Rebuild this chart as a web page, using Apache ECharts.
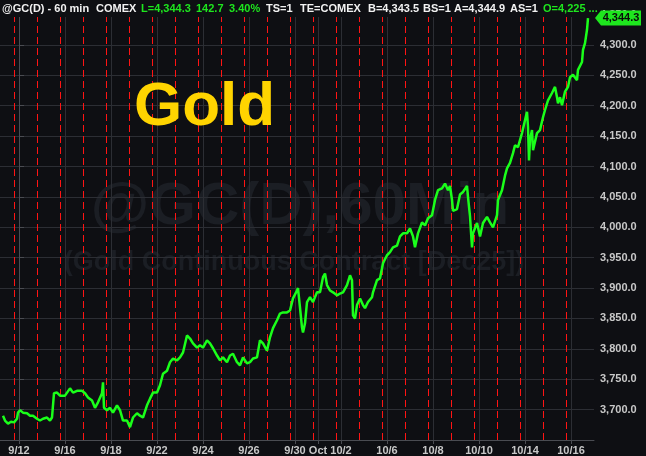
<!DOCTYPE html>
<html>
<head>
<meta charset="utf-8">
<title>Gold 60 min</title>
<script src="https://cdn.jsdelivr.net/npm/echarts@6/dist/echarts.min.js"></script>
<style>
  html, body { margin: 0; padding: 0; background: #0e0f13; }
  #chart { width: 646px; height: 456px; }
</style>
</head>
<body>
<div id="chart"></div>
<script>
// x = hours counted from the 9/12 label
var hours = [
  -16, -14, -11, -8, -5, -2, -1, 1, 4, 8, 11, 14, 18, 21, 24, 28, 31, 33, 35, 38,
  41, 46, 51, 54, 58, 63, 66, 69, 73, 76, 79, 83, 84, 85, 88, 91, 94, 98, 101, 104,
  108, 111, 114, 118, 121, 124, 128, 131, 134, 138, 141, 144, 148, 151, 154, 158, 161, 164, 168, 171,
  174, 178, 181, 184, 188, 191, 194, 198, 201, 204, 208, 211, 214, 218, 221, 224, 228, 231, 234, 238,
  241, 244, 248, 251, 254, 258, 261, 264, 268, 271, 274, 278, 279, 281, 283, 284, 286, 288, 291, 294,
  298, 301, 304, 306, 308, 311, 314, 318, 321, 324, 328, 331, 333, 334, 336, 338, 341, 344, 346, 349,
  353, 354, 358, 361, 364, 368, 371, 374, 378, 381, 384, 388, 391, 394, 396, 399, 403, 406, 409, 413,
  416, 419, 423, 426, 429, 431, 433, 434, 438, 441, 444, 448, 449, 451, 453, 454, 458, 461, 464, 468,
  471, 474, 478, 479, 483, 486, 488, 491, 494, 496, 499, 503, 506, 508, 509, 510, 511, 513, 514, 518,
  521, 524, 526, 529, 533, 536, 538, 539, 541, 543, 546, 549, 551, 554, 558, 559, 561, 563, 564, 566,
  568, 569
];
var prices = [
  3690, 3682, 3677, 3680, 3679, 3685, 3695, 3699, 3695, 3694, 3690, 3690, 3685, 3682, 3685, 3687, 3682, 3687, 3727, 3728,
  3723, 3723, 3735, 3728, 3731, 3731, 3727, 3720, 3715, 3703, 3712, 3727, 3745, 3703, 3699, 3703, 3695, 3707, 3699, 3682,
  3682, 3671, 3687, 3694, 3690, 3687, 3707, 3718, 3728, 3728, 3740, 3759, 3764, 3778, 3784, 3781, 3786, 3794, 3822, 3817,
  3809, 3802, 3806, 3802, 3814, 3809, 3801, 3789, 3781, 3786, 3778, 3789, 3792, 3778, 3773, 3786, 3776, 3778, 3784, 3786,
  3814, 3809, 3797, 3819, 3834, 3847, 3858, 3860, 3860, 3863, 3883, 3896, 3900, 3868, 3835, 3827, 3842, 3877, 3885, 3877,
  3893, 3893, 3918, 3924, 3905, 3896, 3893, 3888, 3891, 3893, 3905, 3921, 3913, 3855, 3850, 3872, 3883, 3872, 3867, 3877,
  3885, 3893, 3913, 3916, 3941, 3954, 3959, 3967, 3970, 3985, 3990, 3990, 3998, 3985, 3967, 3990, 4008, 4003, 4015, 4020,
  4045, 4061, 4064, 4072, 4061, 4068, 4045, 4027, 4030, 4054, 4058, 4068, 4050, 4018, 3967, 3990, 4007, 3985, 4007, 4017,
  4008, 4000, 4020, 4045, 4061, 4085, 4097, 4106, 4122, 4135, 4132, 4155, 4176, 4190, 4165, 4110, 4144, 4160, 4127, 4155,
  4160, 4181, 4193, 4209, 4221, 4231, 4214, 4204, 4214, 4201, 4223, 4231, 4247, 4251, 4242, 4259, 4256, 4272, 4292, 4303,
  4325, 4344.3
];
var labelHours = [0, 46, 92, 138, 184, 230, 276, 299, 322, 368, 414, 460, 506, 552];
var labelTexts = ['9/12', '9/16', '9/18', '9/22', '9/24', '9/26', '9/30', 'Oct', '10/2', '10/6', '10/8', '10/10', '10/14', '10/16'];
var sessionBreaks = [-5, 18, 41, 64, 87, 110, 133, 156, 179, 202, 225, 248, 271, 294, 317, 340, 363, 386, 409, 432, 455, 478, 501, 524, 547];

var header = [
  { t: '@GC(D) - 60 min', x: 2, c: '#f2f2f2' },
  { t: 'COMEX', x: 96, c: '#f2f2f2' },
  { t: 'L=4,344.3', x: 141, c: '#1ee61e' },
  { t: '142.7', x: 196, c: '#1ee61e' },
  { t: '3.40%', x: 229, c: '#1ee61e' },
  { t: 'TS=1', x: 266, c: '#f2f2f2' },
  { t: 'TE=COMEX', x: 300, c: '#f2f2f2' },
  { t: 'B=4,343.5', x: 368, c: '#f2f2f2' },
  { t: 'BS=1', x: 423, c: '#f2f2f2' },
  { t: 'A=4,344.9', x: 454, c: '#f2f2f2' },
  { t: 'AS=1', x: 510, c: '#f2f2f2' },
  { t: 'O=4,225 ...', x: 543, c: '#1ee61e' }
];

var FONT = '"Liberation Sans", Arial, sans-serif';
var chart = echarts.init(document.getElementById('chart'));

var points = hours.map(function (h, i) { return [h, prices[i]]; });

var graphics = [
  // watermark
  {
    type: 'text', z: -1, silent: true, x: 300, y: 207,
    style: { text: '@GC(D),60Min', fill: '#1b1e24', font: 'bold 60px ' + FONT, textAlign: 'center', textVerticalAlign: 'middle' }
  },
  {
    type: 'text', z: -1, silent: true, x: 294, y: 263,
    style: { text: '(Gold Continuous Contract [Dec25])', fill: '#1b1e24', font: 'bold 27px ' + FONT, textAlign: 'center', textVerticalAlign: 'middle' }
  },
  {
    type: 'text', z: 10, silent: true, x: 134, y: 108,
    style: { text: 'Gold', fill: '#ffd400', font: 'bold 62px ' + FONT, textAlign: 'left', textVerticalAlign: 'middle' }
  },
  {
    type: 'rect', z: 20, silent: true,
    shape: { x: 0, y: 0, width: 594, height: 17 },
    style: { fill: '#0e0f13' }
  }
];
header.forEach(function (h) {
  graphics.push({
    type: 'text', z: 21, silent: true, x: h.x, y: 9,
    style: { text: h.t, fill: h.c, font: 'bold 11px ' + FONT, textAlign: 'left', textVerticalAlign: 'middle' }
  });
});

var option = {
  backgroundColor: '#0e0f13',
  animation: false,
  grid: { left: 0, right: 52, top: 0, bottom: 16 },
  xAxis: {
    type: 'value',
    min: -19,
    max: 575,
    axisLine: { show: true, lineStyle: { color: '#4a4c52' } },
    axisTick: { show: true, length: 4, customValues: labelHours, lineStyle: { color: '#4a4c52' } },
    axisLabel: {
      customValues: labelHours,
      color: '#c8c8c8',
      fontFamily: FONT,
      fontWeight: 'bold',
      fontSize: 11,
      margin: 5,
      formatter: function (v) {
        var i = labelHours.indexOf(v);
        return i >= 0 ? labelTexts[i] : '';
      }
    },
    splitLine: { show: true, lineStyle: { color: '#2c2e34', width: 1 } }
  },
  yAxis: {
    type: 'value',
    position: 'right',
    min: 3650,
    max: 4374,
    interval: 50,
    axisLine: { show: true, lineStyle: { color: '#4a4c52' } },
    axisTick: { show: true, length: 5, lineStyle: { color: '#4a4c52' } },
    axisLabel: {
      showMinLabel: false,
      showMaxLabel: false,
      color: '#c8c8c8',
      fontFamily: FONT,
      fontWeight: 'bold',
      fontSize: 11,
      margin: 6,
      formatter: function (v) {
        return v.toLocaleString('en-US', { minimumFractionDigits: 1, maximumFractionDigits: 1 });
      }
    },
    splitLine: { show: true, lineStyle: { color: '#2c2e34', width: 1 } }
  },
  series: [
    {
      type: 'line',
      data: points,
      showSymbol: false,
      z: 5,
      lineStyle: { color: '#1aff1a', width: 2.5 },
      markLine: {
        silent: true,
        symbol: 'none',
        label: { show: false },
        lineStyle: { color: '#ff1414', width: 1, type: [7, 4] },
        data: sessionBreaks.map(function (h) { return { xAxis: h }; })
      }
    }
  ],
  graphic: graphics
};
chart.setOption(option);

// last price tag on the right axis
var last = points[points.length - 1];
var py = chart.convertToPixel({ yAxisIndex: 0 }, last[1]);
var px = chart.convertToPixel({ xAxisIndex: 0 }, 575);
chart.setOption({
  graphic: graphics.concat([
    {
      type: 'polygon', z: 30, silent: true,
      shape: { points: [[px + 1, py], [px + 7, py - 7.5], [px + 47, py - 7.5], [px + 47, py + 7.5], [px + 7, py + 7.5]] },
      style: { fill: '#1ee61e' }
    },
    {
      type: 'text', z: 31, silent: true, x: px + 27, y: py,
      style: { text: last[1].toLocaleString('en-US', { minimumFractionDigits: 1 }), fill: '#0a0a0a', font: 'bold 11px ' + FONT, textAlign: 'center', textVerticalAlign: 'middle' }
    }
  ])
});
</script>
</body>
</html>
